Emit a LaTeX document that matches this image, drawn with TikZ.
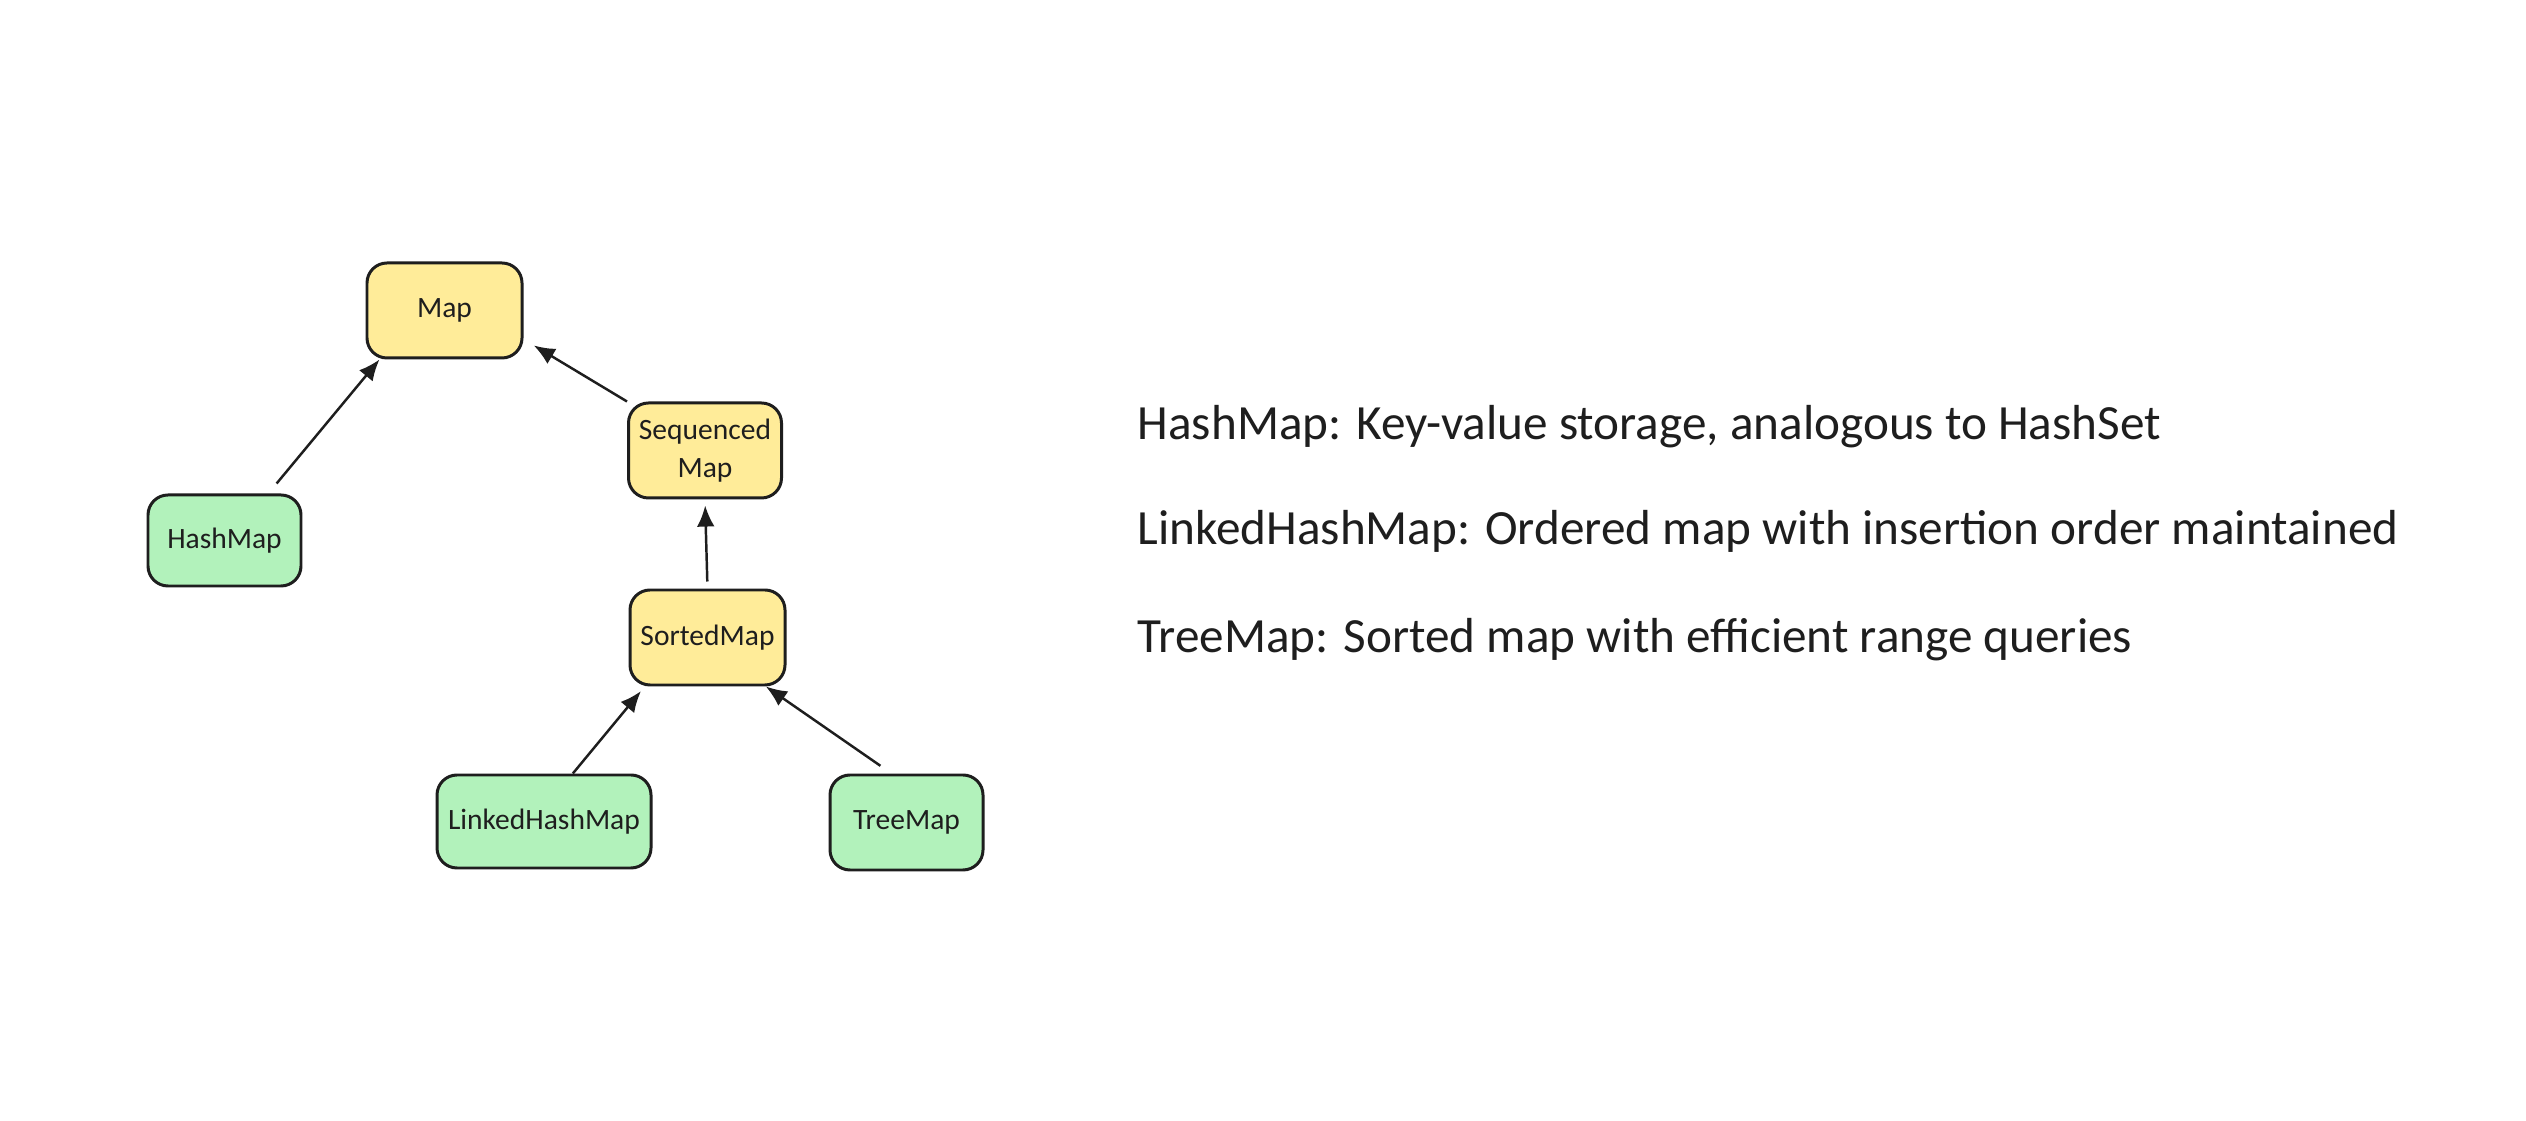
\documentclass[tikz,border=0pt]{standalone}
\usepackage{fontspec}
\setmainfont{Carlito}
\usepackage{tikz}
\usetikzlibrary{arrows.meta}
\definecolor{ifacefill}{HTML}{FFEC99}
\definecolor{implfill}{HTML}{B2F2BB}
\definecolor{ink}{HTML}{1E1E1E}
\tikzset{
    box/.style={draw=ink,line width=0.85pt,rounded corners=0.2cm,
        minimum width=1.53cm,minimum height=0.95cm,inner sep=0pt,
        align=center,text=ink,font=\fontsize{8.4}{10.8}\selectfont},
    iface/.style={box,fill=ifacefill},
    impl/.style={box,fill=implfill},
    inherit/.style={-{Latex[length=6pt,width=5pt]},draw=ink,
        line width=0.7pt},
    note/.style={anchor=base west,inner sep=0pt,text=ink,
        font=\fontsize{14.0}{17}\selectfont}
}
\begin{document}
\begin{tikzpicture}
        \useasboundingbox [fill=white] (0,0) rectangle (25.26,11.20);

        % Interfaces
        \node [iface,minimum width=1.55cm] (map) at (4.445,8.095) {Map};
        \node [iface] (seqmap) at (7.05,6.695) {Sequenced\\Map};
        \node [iface,minimum width=1.55cm] (sortedmap) at (7.075,4.825)
            {SortedMap};

        % Implementations
        \node [impl,minimum height=0.91cm] (hashmap) at (2.245,5.795)
            {HashMap};
        \node [impl,minimum width=2.14cm,minimum height=0.93cm]
            (linkedhashmap) at (5.44,2.985) {LinkedHashMap};
        \node [impl] (treemap) at (9.065,2.975) {TreeMap};

        % Arrows
        \draw [inherit,shorten <=0.13cm] (hashmap.47) -- (map.217);
        \draw [inherit,shorten >=0.12cm] (seqmap.north west) -- (map.-20);
        \draw [inherit,shorten <=0.07cm,shorten >=0.06cm]
            (sortedmap.north) -- (seqmap.south);
        \draw [inherit,shorten >=0.06cm] (linkedhashmap.59)
            -- (sortedmap.218);
        \draw [inherit,shorten <=0.135cm] (treemap.107) -- (sortedmap.-40);

        % Notes
        \node [note] (n1) at (11.37,6.80)
            {HashMap: Key-value storage, analogous to HashSet};
        \node [note] (n2) at (11.37,5.75)
            {LinkedHashMap: Ordered map with insertion order maintained};
        \node [note] (n3) at (11.37,4.67)
            {TreeMap: Sorted map with efficient range queries};

    \end{tikzpicture}
\end{document}
